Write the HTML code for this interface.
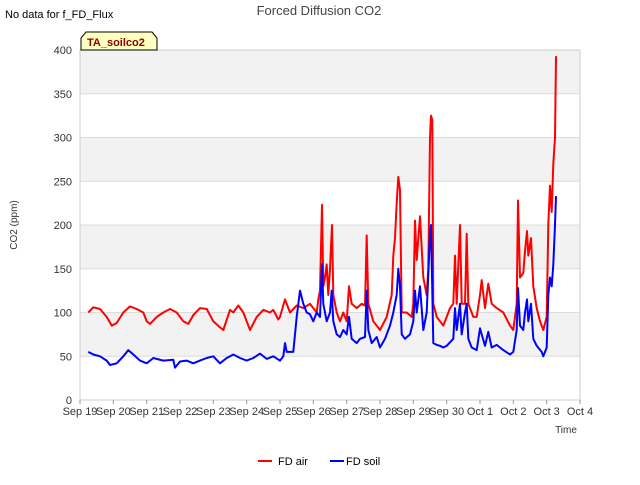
<!DOCTYPE html>
<html><head><meta charset="utf-8"><style>
body{margin:0;background:#fff;}
svg{font-family:"Liberation Sans","DejaVu Sans",sans-serif;}
</style></head><body>
<svg width="640" height="480" viewBox="0 0 640 480">
<text x="5" y="18" font-size="11" fill="#000">No data for f_FD_Flux</text>
<text x="319" y="15" font-size="13" fill="#444" text-anchor="middle">Forced Diffusion CO2</text>
<g id="plot"></g>
<g>
<path d="M81,50 L81,38 L86,32 L152,32 L157,38 L157,50 Z" fill="#ffffc0" stroke="#000" stroke-width="1"/>
<text x="87" y="46" font-size="11" font-weight="bold" fill="#8b0000">TA_soilco2</text>
</g>
<text transform="translate(17,225) rotate(-90)" font-size="10" fill="#333" text-anchor="middle">CO2 (ppm)</text>
<text x="566" y="433" font-size="10" fill="#333" text-anchor="middle">Time</text>
<g>
<line x1="258" y1="461" x2="272" y2="461" stroke="#ff0000" stroke-width="2"/>
<text x="278" y="465" font-size="11" fill="#000">FD air</text>
<line x1="330" y1="461" x2="344" y2="461" stroke="#0000ff" stroke-width="2"/>
<text x="346" y="465" font-size="11" fill="#000">FD soil</text>
</g>
</svg>
<script>
const xTickLabels=["Sep 19","Sep 20","Sep 21","Sep 22","Sep 23","Sep 24","Sep 25","Sep 26","Sep 27","Sep 28","Sep 29","Sep 30","Oct 1","Oct 2","Oct 3","Oct 4"];
const yTicks=[0,50,100,150,200,250,300,350,400];
const airDays=[0.25,0.4,0.6,0.8,0.95,1.1,1.3,1.5,1.7,1.9,2.0,2.1,2.3,2.5,2.7,2.9,3.1,3.25,3.4,3.6,3.8,4.0,4.2,4.3,4.5,4.6,4.75,4.9,5.0,5.1,5.3,5.5,5.7,5.8,5.95,6.0,6.15,6.3,6.5,6.7,6.9,7.0,7.1,7.15,7.2,7.26,7.3,7.35,7.4,7.45,7.5,7.56,7.6,7.7,7.8,7.9,8.0,8.07,8.15,8.3,8.45,8.55,8.6,8.65,8.8,9.0,9.2,9.35,9.4,9.45,9.5,9.55,9.6,9.65,9.8,9.95,10.0,10.05,10.1,10.2,10.3,10.4,10.45,10.5,10.53,10.57,10.6,10.7,10.8,10.9,11.0,11.1,11.2,11.25,11.3,11.4,11.45,11.55,11.6,11.65,11.8,11.9,12.0,12.05,12.15,12.25,12.35,12.5,12.7,12.9,13.0,13.1,13.14,13.2,13.3,13.35,13.41,13.45,13.53,13.6,13.7,13.8,13.9,14.0,14.05,14.1,14.15,14.2,14.25,14.28];
const airValues=[100,106,104,95,85,88,100,107,104,100,90,87,95,100,104,100,90,87,97,105,104,90,83,80,103,100,108,100,90,80,95,103,100,103,92,95,115,100,108,105,110,105,100,115,125,223,130,140,155,120,150,200,120,100,90,100,90,130,110,105,110,108,188,110,90,80,95,120,165,185,225,255,240,100,100,95,110,205,160,210,140,120,150,300,325,320,110,95,90,85,95,105,110,165,110,200,110,110,190,110,95,95,120,137,105,133,110,105,100,85,80,110,228,140,145,170,193,165,185,130,105,90,80,95,200,245,215,270,300,393];
const soilDays=[0.25,0.4,0.6,0.8,0.9,1.1,1.3,1.45,1.6,1.8,2.0,2.2,2.5,2.8,2.85,3.0,3.2,3.4,3.6,3.8,4.0,4.2,4.4,4.5,4.6,4.8,5.0,5.2,5.4,5.6,5.8,6.0,6.1,6.15,6.2,6.4,6.5,6.6,6.7,6.8,6.9,7.0,7.1,7.2,7.26,7.3,7.4,7.5,7.55,7.6,7.7,7.8,7.9,8.0,8.07,8.15,8.3,8.4,8.55,8.6,8.65,8.75,8.9,9.0,9.15,9.3,9.4,9.5,9.55,9.6,9.65,9.75,9.9,10.0,10.05,10.1,10.2,10.3,10.4,10.5,10.53,10.6,10.7,10.8,10.9,11.0,11.2,11.25,11.3,11.4,11.45,11.55,11.6,11.65,11.75,11.9,12.0,12.05,12.15,12.25,12.35,12.5,12.7,12.9,13.0,13.1,13.14,13.2,13.3,13.35,13.41,13.45,13.53,13.6,13.7,13.85,13.9,14.0,14.05,14.1,14.15,14.2,14.25,14.28];
const soilValues=[55,52,50,45,40,42,50,57,52,45,42,48,45,46,37,44,45,42,45,48,50,42,48,50,52,48,45,48,53,47,50,45,50,65,55,55,95,125,110,100,98,90,100,95,155,110,90,100,125,90,75,72,80,75,95,70,65,70,72,125,80,65,72,60,70,85,100,120,150,130,75,70,75,90,125,100,130,80,100,190,200,65,63,62,60,62,70,105,80,110,75,100,110,70,60,57,82,75,62,78,60,63,57,52,55,80,128,85,80,100,115,90,110,70,62,55,50,60,120,140,130,155,200,233];
const NS="http://www.w3.org/2000/svg";
const X0=80,X1=580,Y0=400,Y1=50,DMAX=15,VMAX=400;
function xs(d){return X0+(X1-X0)*d/DMAX;}
function ys(v){return Y0-(Y0-Y1)*v/VMAX;}
const g=document.getElementById('plot');
function mk(t,a){const e=document.createElementNS(NS,t);for(const k in a)e.setAttribute(k,a[k]);return e;}
for(let i=0;i<yTicks.length-1;i++){
  if(i%2===1){
    const r=mk('rect',{x:X0,y:ys(yTicks[i+1]),width:X1-X0,height:ys(yTicks[i])-ys(yTicks[i+1]),fill:'#f2f2f2'});
    
    
    g.appendChild(r);
  }
}
yTicks.forEach(v=>{
  const l=mk('line',{x1:X0,x2:X1,y1:ys(v),y2:ys(v),stroke:'#dcdcdc','stroke-width':1});
  
  
  g.appendChild(l);
  const t=mk('text',{x:X0-8,y:ys(v)+4,'font-size':11,fill:'#333','text-anchor':'end'});
  
  
  t.textContent=v;g.appendChild(t);
});
const bx=mk('rect',{x:X0,y:Y1,width:X1-X0,height:Y0-Y1,fill:'none',stroke:'#ccc'});


g.appendChild(bx);
xTickLabels.forEach((s,i)=>{
  const tk=mk('line',{x1:xs(i),x2:xs(i),y1:Y0,y2:Y0+4,stroke:'#999'});
  
  
  g.appendChild(tk);
  const t=mk('text',{x:xs(i),y:Y0+15,'font-size':11,fill:'#333','text-anchor':'middle'});
  
  
  t.textContent=s;g.appendChild(t);
});
function line(d,v,c,name){
  const p=mk('polyline',{points:d.map((x,i)=>xs(x).toFixed(1)+','+ys(v[i]).toFixed(1)).join(' '),fill:'none',stroke:c,'stroke-width':2,'stroke-linejoin':'round'});
  
  
  g.appendChild(p);
}
line(airDays,airValues,'#ff0000','fd-air-line');
line(soilDays,soilValues,'#0000ff','fd-soil-line');
</script>
</body></html>
